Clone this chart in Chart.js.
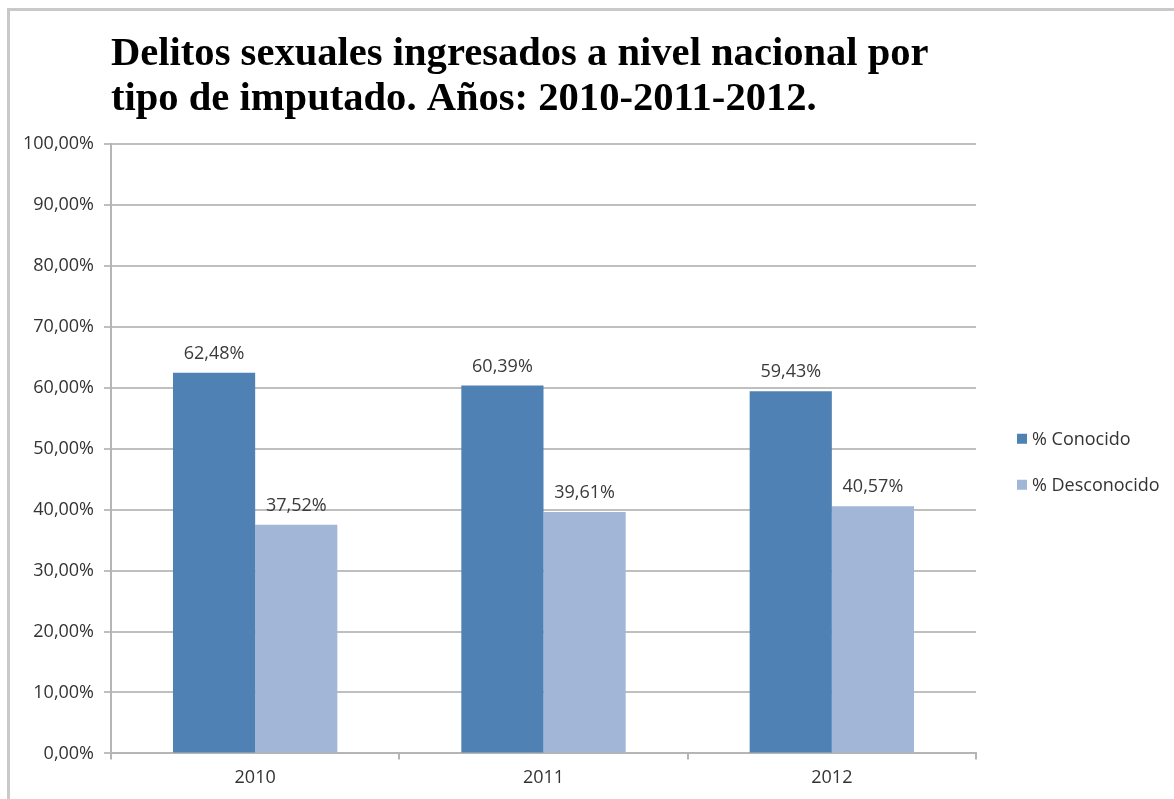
<!DOCTYPE html>
<html>
<head>
<meta charset="utf-8">
<script src="https://cdn.jsdelivr.net/npm/chart.js@4/dist/chart.umd.min.js"></script>
<style>
    html, body { margin: 0; padding: 0; background: #fff; }
    #frame {
        position: absolute; left: 7px; top: 8px; width: 1180px; height: 800px;
        border-top: 3px solid #c9c9c9; border-left: 3px solid #c9c9c9;
    }
    #wrap { position: absolute; left: 0; top: 0; width: 1174px; height: 799px; }
</style>
</head>
<body>
<div id="frame"></div>
<div id="wrap"><canvas id="delitos"></canvas></div>
<script>
const years = ["2010", "2011", "2012"];
const conocido = [62.48, 60.39, 59.43];
const desconocido = [37.52, 39.61, 40.57];
const seriesNames = ["% Conocido", "% Desconocido"];
const titleLines = ["Delitos sexuales ingresados a nivel nacional por", "tipo de imputado. Años: 2010-2011-2012."];

const pct = (v) => v.toFixed(2).replace(".", ",") + "%";
const sans = "'Open Sans', sans-serif";
const fontSize = 18;

// etiquetas de valor encima de cada barra
const valueLabels = {
    id: "valueLabels",
    afterDatasetsDraw(chart) {
        const ctx = chart.ctx;
        ctx.save();
        ctx.font = fontSize + "px " + sans;
        ctx.fillStyle = "#3a3a3a";
        ctx.textAlign = "center";
        ctx.textBaseline = "middle";
        chart.data.datasets.forEach((ds, i) => {
            chart.getDatasetMeta(i).data.forEach((bar, j) => {
                ctx.fillText(pct(ds.data[j]), bar.x, bar.y - 19);
            });
        });
        ctx.restore();
    }
};

// leyenda a la derecha del área del gráfico
const sideLegend = {
    id: "sideLegend",
    afterDraw(chart) {
        const ctx = chart.ctx;
        const area = chart.chartArea;
        const x = area.right + 41;
        const midY = (area.top + area.bottom) / 2 + 14;
        ctx.save();
        ctx.font = fontSize + "px " + sans;
        ctx.textBaseline = "middle";
        ctx.textAlign = "left";
        chart.data.datasets.forEach((ds, i) => {
            const y = midY + (i - 0.5) * 46;
            ctx.fillStyle = ds.backgroundColor;
            ctx.fillRect(x, y - 6, 10, 10);
            ctx.fillStyle = "#333";
            ctx.fillText(ds.label, x + 15, y);
        });
        ctx.restore();
    }
};

const context = document.getElementById("delitos").getContext("2d");
const delitosChart = new Chart(context, {
    type: "bar",
    data: {
        labels: years,
        datasets: [{
            label: seriesNames[0],
            data: conocido,
            backgroundColor: "#4f81b4",
        }, {
            label: seriesNames[1],
            data: desconocido,
            backgroundColor: "#a2b6d8",
        }]
    },
    options: {
        responsive: true,
        maintainAspectRatio: false,
        animation: false,
        layout: { padding: { left: 13, right: 198, top: 0, bottom: 2 } },
        datasets: {
            bar: { categoryPercentage: 0.57, barPercentage: 1.0 }
        },
        plugins: {
            title: {
                display: true,
                text: titleLines,
                align: "start",
                fullSize: false,
                color: "#000",
                font: { family: "'Liberation Serif', 'Times New Roman', serif", size: 40.6, weight: "bold", lineHeight: 1.11 },
                padding: { top: 32, bottom: 22 }
            },
            legend: { display: false },
            tooltip: { enabled: false }
        },
        scales: {
            x: {
                grid: { display: true, drawOnChartArea: false, drawTicks: true, tickLength: 6, color: "#b5b5b5", lineWidth: 2 },
                border: { color: "#b5b5b5", width: 2 },
                ticks: { color: "#333", font: { family: sans, size: fontSize }, padding: 8 }
            },
            y: {
                min: 0,
                max: 100,
                ticks: {
                    stepSize: 10,
                    color: "#333",
                    padding: 10,
                    font: { family: sans, size: fontSize },
                    callback: (v) => pct(v)
                },
                grid: { color: "#bfbfbf", lineWidth: 2, tickLength: 7 },
                border: { color: "#b5b5b5", width: 2 }
            }
        }
    },
    plugins: [valueLabels, sideLegend]
});
</script>
</body>
</html>
